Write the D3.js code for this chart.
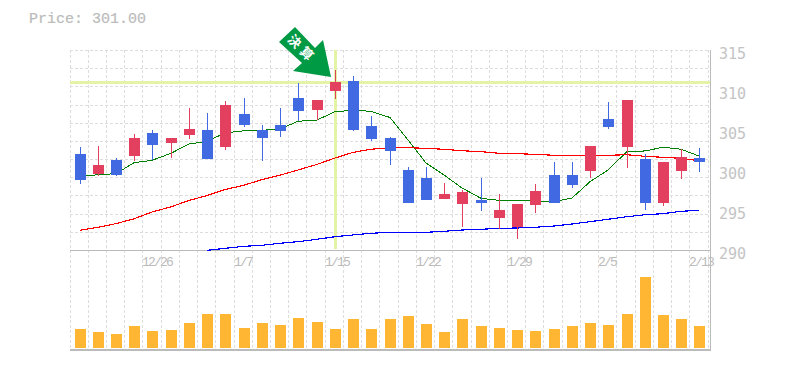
<!DOCTYPE html>
<html>
<head>
<meta charset="utf-8">
<script src="https://cdn.jsdelivr.net/npm/d3@7"></script>
<style>
  html, body { margin: 0; padding: 0; background: #fff; }
  svg { display: block; }
  text { opacity: 0.99; }
</style>
</head>
<body>
<div id="chart"></div>
<script>
// daily candles, oldest first
const opens  = [302,299.5,301.25,301.75,304.6,303.4,304.4,305,302.9,307,305,305.6,309,307.5,309.9,311.1,305.5,304,300,299,296.4,295.75,296.25,294,292.9,295.6,299.4,299.4,299.9,306.4,302.9,301.4,295.9,299.9,301.5];
const closes = [298.75,300.6,299.4,304,303.1,304,305.1,301.4,308.1,305.6,304,304.9,307.4,308.75,311,305,303.9,302.4,295.9,296.25,297,297.25,295.9,295,295.75,297.4,295.9,298.1,303,305.4,308.75,295.9,301,301.6,301];
const highs  = [302.9,303,301.5,304.5,305,304,307.75,307.1,308.6,309,305.6,307.75,310.9,308.75,312.5,311.75,306.75,304.1,300.4,300.4,298.4,297.5,299,297,295.75,298.25,301,301,303,308.5,308.75,302,301,302.6,302.75];
const lows   = [298.25,299.25,299.25,301.1,301.25,301.5,303.9,301.4,302.5,305.4,301.1,304.1,306.1,306.25,308.9,304.9,303.6,300.6,295.9,296.25,296.4,292.9,294.9,292.6,291.4,294.6,295.9,297.75,299,305.1,300.25,295,295.5,298.9,299.75];

const ma5  = [299.16,299.41,299.54,300.91,301.21,302.09,303.25,303.59,304.63,304.91,304.96,305.13,306.09,306.25,307.29,307.46,307.34,306.56,303.75,300.88,299.38,297.75,296.46,296.21,296.19,296.13,296.06,296.5,298.54,300,302.31,302.38,302.84,302.59,301.75];
const ma25 = [292.46,292.84,293.3,293.9,294.75,295.4,296.2,296.8,297.55,298.1,298.8,299.35,300,300.7,301.5,302.2,302.6,302.75,302.79,302.71,302.59,302.41,302.29,302.09,302.04,301.96,301.84,301.84,301.79,301.84,301.91,301.71,301.59,301.46,301.16];
const ma75 = [null,null,null,null,null,null,null,289.96,290.21,290.46,290.59,290.84,291.04,291.34,291.66,291.88,292.09,292.21,292.21,292.21,292.34,292.5,292.59,292.71,292.75,292.84,293,293.25,293.54,293.84,294.16,294.41,294.54,294.84,294.96];

const volumes = [19,16,14,22,17,18,25,34,34,20,25,23,30,26,19,29,19,29,32,24,16,29,22,20,18,17,19,22,25,23,34,71,33,29,22];

const yTicks = [290,295,300,305,310,315];
const dateLabels = {4:"12/26",9:"1/7",14:"1/15",19:"1/22",24:"1/29",29:"2/5",34:"2/13"};
const currentPrice = "301.00";
const markIndex = 14;
const markPrice = 311;
const markLabel = "決算";

let margin = {top: 50, left: 70.9, right: 75.9},
    width = 785,
    height = 370,
    priceBottom = 250,
    volBottom = 348;

const svg = d3.select("#chart").append("svg")
  .attr("width", width)
  .attr("height", height);

const x = d3.scaleBand()
  .domain(d3.range(opens.length))
  .range([margin.left, width - margin.right]);
const cx = i => Math.floor(x(i) + x.bandwidth() / 2);
// the grid runs in the gap left of each candle
const gridX = i => Math.max(70, Math.floor(x(i)) - 1);

const y = d3.scaleLinear().domain([290, 315]).range([priceBottom, margin.top]);
const yVol = d3.scaleLinear().domain([0, 71]).range([volBottom, 277]);

// grid
const grid = svg.append("g")
  .attr("stroke", "#ddd")
  .attr("stroke-dasharray", "3,2")
  .attr("shape-rendering", "crispEdges");

d3.range(opens.length).forEach(i => {
  const gx = gridX(i) + 0.5;
  grid.append("line").attr("x1", gx).attr("x2", gx).attr("y1", 50).attr("y2", 350);
});
grid.append("line").attr("x1", 708.5).attr("x2", 708.5).attr("y1", 50).attr("y2", 350);
d3.range(0, 11).forEach(i => {
  const gy = Math.round(y(315 - i * 25 / 11)) + 0.5;
  grid.append("line").attr("x1", 70).attr("x2", 710).attr("y1", gy).attr("y2", gy);
});

// frame
const frame = svg.append("g").attr("stroke", "#bbb").attr("shape-rendering", "crispEdges");
frame.append("line").attr("x1", 70).attr("x2", 710).attr("y1", 250.5).attr("y2", 250.5);
frame.append("line").attr("x1", 70).attr("x2", 711).attr("y1", 350).attr("y2", 350).attr("stroke-width", 2);
frame.append("line").attr("x1", 710.5).attr("x2", 710.5).attr("y1", 50).attr("y2", 350);

// highlight for the marked day
svg.append("line")
  .attr("x1", 70).attr("x2", 710)
  .attr("y1", y(markPrice) + 0.5).attr("y2", y(markPrice) + 0.5)
  .attr("stroke", "#e3f4a6").attr("stroke-width", 3);
svg.append("line")
  .attr("x1", cx(markIndex) + 0.5).attr("x2", cx(markIndex) + 0.5)
  .attr("y1", 50).attr("y2", 249)
  .attr("stroke", "#e3f4a6").attr("stroke-width", 3);

// moving averages
const line = d3.line()
  .defined(d => d != null)
  .x((d, i) => cx(i))
  .y(d => y(d));
[[ma5, "#008000", 1], [ma25, "#ff0000", 1.15], [ma75, "#0000ff", 1.15]].forEach(s => {
  svg.append("path")
    .attr("d", line(s[0]))
    .attr("fill", "none")
    .attr("stroke", s[1])
    .attr("stroke-width", s[2])
    .attr("shape-rendering", "crispEdges");
});

// candles
const upColor = "#e3405f", downColor = "#4169e1";
const candles = svg.append("g").selectAll("g")
  .data(opens)
  .join("g")
  .attr("fill", (d, i) => closes[i] >= d ? upColor : downColor)
  .attr("stroke", (d, i) => closes[i] >= d ? upColor : downColor)
  .attr("shape-rendering", "crispEdges");

candles.append("line")
  .attr("x1", (d, i) => cx(i) + 0.5).attr("x2", (d, i) => cx(i) + 0.5)
  .attr("y1", (d, i) => y(highs[i])).attr("y2", (d, i) => y(lows[i]));
candles.append("rect")
  .attr("x", (d, i) => cx(i) - 5)
  .attr("width", 11)
  .attr("y", (d, i) => y(Math.max(d, closes[i])))
  .attr("height", (d, i) => Math.abs(y(d) - y(closes[i])))
  .attr("stroke", "none");

// volume
svg.append("g").selectAll("rect")
  .data(volumes)
  .join("rect")
  .attr("x", (d, i) => cx(i) - 5)
  .attr("width", 11)
  .attr("y", d => yVol(d))
  .attr("height", d => volBottom - yVol(d))
  .attr("fill", "#ffb733")
  .attr("shape-rendering", "crispEdges");

// axis labels
svg.append("g").selectAll("text")
  .data(yTicks)
  .join("text")
  .attr("x", 719)
  .attr("y", d => y(d) + 9)
  .attr("fill", "#c4c4c4")
  .style("font-family", "'DejaVu Sans Mono'")
  .style("font-size", "15px")
  .text(d => d);

svg.append("g").selectAll("text")
  .data(Object.keys(dateLabels))
  .join("text")
  .attr("x", d => gridX(+d))
  .attr("y", 266)
  .attr("fill", "#bbb")
  .style("font-family", "'Liberation Mono'")
  .style("font-size", "13px")
  .style("letter-spacing", "-1.8px")
  .text(d => dateLabels[d]);

svg.append("text")
  .attr("x", 29)
  .attr("y", 23)
  .attr("fill", "#bbb")
  .attr("stroke", "#bbb")
  .attr("stroke-width", 0.2)
  .style("font-family", "'Liberation Mono'")
  .style("font-size", "15px")
  .text("Price: " + currentPrice);

// arrow marker, tip sits just over the marked candle
const tipX = cx(markIndex) - 4, tipY = y(markPrice) - 5;
const arrow = svg.append("g").attr("transform", "translate(" + tipX + "," + tipY + ")");
arrow.append("path")
  .attr("d", "M-36,-50 L-52,-35 L-29,-14 L-38,-6 L0,0 L-8,-37 L-16,-29 Z")
  .attr("fill", "#009944");
arrow.append("text")
  .attr("transform", "translate(-29,-28) rotate(45)")
  .attr("text-anchor", "middle")
  .attr("dy", "0.35em")
  .attr("fill", "#fff")
  .style("font-family", "'Noto Sans CJK JP'")
  .style("font-weight", "bold")
  .style("font-size", "13px")
  .style("letter-spacing", "4px")
  .text(markLabel);
</script>
</body>
</html>
